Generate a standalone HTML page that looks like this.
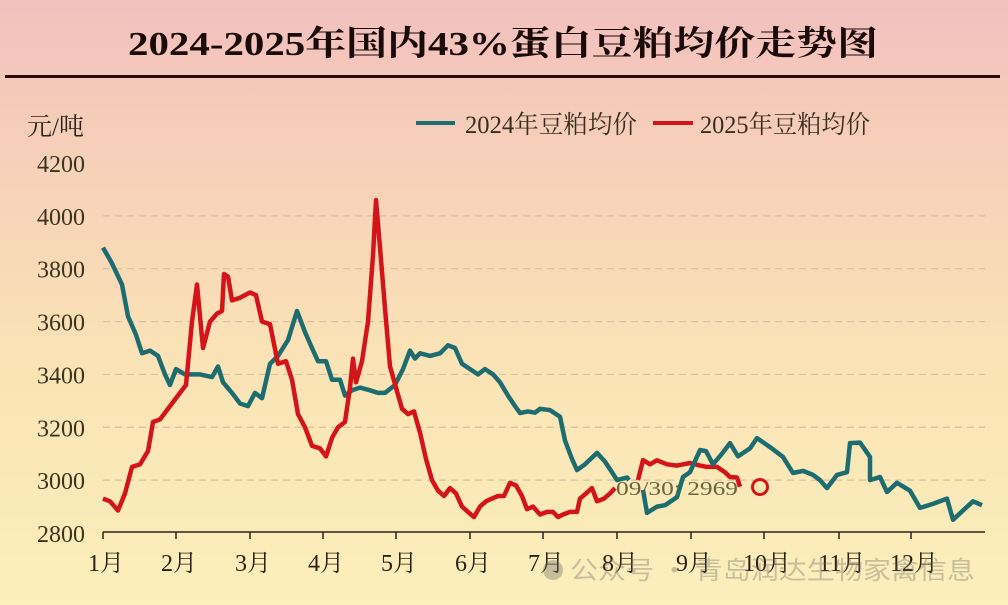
<!DOCTYPE html>
<html><head><meta charset="utf-8">
<style>
html,body{margin:0;padding:0;}
body{width:1008px;height:605px;overflow:hidden;background:linear-gradient(180deg,#f2c0be 0%,#f7d2b8 30%,#fae3b6 60%,#fcefbb 100%);}
svg{display:block;}
</style></head><body>
<svg id="s" width="1008" height="605" xmlns="http://www.w3.org/2000/svg" font-family="'Liberation Serif','Noto Serif CJK SC',serif">
<text x="503" y="55" text-anchor="middle" font-size="34" font-weight="bold" fill="#1a0a0a" textLength="750" lengthAdjust="spacingAndGlyphs">2024-2025年国内43%蛋白豆粕均价走势图</text>
<rect x="5" y="75" width="995" height="3" fill="#2a0a0a"/>
<text x="27" y="135" font-size="25" fill="#2b2418">元/吨</text>
<line x1="416" y1="123" x2="455" y2="123" stroke="#1f6e72" stroke-width="4"/>
<text x="465" y="133" font-size="25" fill="#3a2e22" textLength="172" lengthAdjust="spacingAndGlyphs">2024年豆粕均价</text>
<line x1="653" y1="123" x2="693" y2="123" stroke="#d0161a" stroke-width="4"/>
<text x="700" y="133" font-size="25" fill="#3a2e22" textLength="170" lengthAdjust="spacingAndGlyphs">2025年豆粕均价</text>
<g id="grid" stroke="#d8bfa6" stroke-width="1.2" stroke-dasharray="7,5"></g>
<g id="ylab" font-size="24" fill="#3d3420" text-anchor="end"></g>
<line x1="103" y1="532" x2="985" y2="532" stroke="#2a2418" stroke-width="1.5"/>
<g id="xt" stroke="#2a2418" stroke-width="1.5"></g>
<g id="xlab" font-size="24" fill="#2a2418" text-anchor="middle"></g>
<polyline id="teal" fill="none" stroke="#1d6c70" stroke-width="4.5" stroke-linejoin="round"/>
<polyline id="red" fill="none" stroke="#d3141a" stroke-width="4.5" stroke-linejoin="round"/>
<text x="616" y="495" font-size="20" fill="#6b6440" textLength="122" lengthAdjust="spacingAndGlyphs">09/30: 2969</text>
<circle cx="760" cy="487" r="7.5" fill="none" stroke="#d3141a" stroke-width="3"/>
<g opacity="0.35" fill="#666">
<circle cx="553" cy="570" r="10"/>
<text x="570" y="579" font-size="25" font-family="'Noto Sans CJK SC',sans-serif" textLength="405" lengthAdjust="spacingAndGlyphs">公众号 · 青岛润达生物家禽信息</text>
</g>
</svg>
<script>
function Y(v){return 533-(v-2800)*0.2643;}
var ns="http://www.w3.org/2000/svg";
var g=document.getElementById('grid'),yl=document.getElementById('ylab');
for(var v=2800;v<=4200;v+=200){
 if(v>2800&&v<4200){var l=document.createElementNS(ns,'line');l.setAttribute('x1',103);l.setAttribute('x2',985);l.setAttribute('y1',Y(v));l.setAttribute('y2',Y(v));g.appendChild(l);}
 var t=document.createElementNS(ns,'text');t.setAttribute('x',85);t.setAttribute('y',Y(v)+9);t.textContent=v;yl.appendChild(t);
}
var xs=[103,176,250,323,396,470,543,617,691,764,839,911];
var xt=document.getElementById('xt'),xl=document.getElementById('xlab');
xs.forEach(function(x,i){var l=document.createElementNS(ns,'line');l.setAttribute('x1',x);l.setAttribute('x2',x);l.setAttribute('y1',532);l.setAttribute('y2',539);xt.appendChild(l);
 var t=document.createElementNS(ns,'text');t.setAttribute('x',x+3);t.setAttribute('y',571);t.textContent=(i+1)+'月';xl.appendChild(t);});
var teal=[[103,3880],[112,3820],[122,3740],[128,3620],[136,3550],[142,3480],[150,3490],[158,3470],[165,3400],[170,3360],[176,3420],[185,3400],[200,3400],[212,3390],[218,3430],[223,3370],[232,3330],[240,3290],[248,3280],[255,3330],[262,3310],[270,3440],[278,3470],[288,3530],[297,3640],[305,3560],[312,3500],[318,3450],[326,3450],[332,3380],[340,3380],[345,3320],[352,3340],[360,3350],[370,3340],[378,3330],[385,3330],[395,3360],[403,3420],[410,3490],[415,3460],[420,3480],[430,3470],[440,3480],[448,3510],[455,3500],[462,3440],[470,3420],[478,3400],[485,3420],[493,3400],[500,3370],[508,3320],[515,3280],[520,3254],[528,3260],[535,3255],[540,3270],[550,3265],[560,3240],[565,3150],[572,3080],[577,3038],[585,3060],[597,3103],[605,3070],[612,3030],[617,3000],[627,3010],[629,3000]];
var teal2=[[643,2963],[647,2876],[657,2900],[665,2905],[677,2936],[683,3012],[690,3030],[700,3114],[706,3110],[713,3060],[722,3100],[730,3140],[738,3090],[750,3120],[757,3159],[770,3125],[783,3088],[793,3027],[803,3035],[813,3020],[820,3000],[827,2970],[837,3020],[847,3030],[850,3140],[860,3142],[870,3088],[870,3000],[880,3012],[887,2955],[897,2990],[910,2960],[920,2895],[933,2910],[947,2930],[953,2850],[963,2885],[973,2920],[982,2905]];
var red=[[103,2930],[110,2920],[118,2885],[125,2950],[132,3050],[140,3060],[148,3110],[153,3220],[160,3230],[170,3280],[180,3330],[186,3360],[192,3600],[197,3740],[203,3500],[210,3600],[217,3630],[222,3640],[224,3780],[228,3770],[232,3680],[240,3690],[250,3710],[256,3700],[262,3600],[270,3590],[278,3440],[286,3450],[292,3380],[298,3250],[305,3200],[312,3130],[320,3120],[326,3090],[332,3160],[338,3200],[345,3220],[350,3350],[353,3460],[356,3370],[362,3450],[368,3600],[373,3850],[376,4060],[380,3880],[385,3650],[390,3430],[396,3350],[402,3270],[408,3250],[414,3260],[420,3180],[426,3080],[432,3000],[438,2960],[444,2940],[450,2970],[456,2950],[462,2900],[468,2880],[474,2860],[480,2900],[486,2920],[492,2930],[498,2940],[504,2940],[510,2990],[516,2980],[522,2940],[527,2890],[533,2900],[540,2870],[547,2880],[553,2880],[558,2860],[563,2870],[570,2880],[577,2880],[580,2930],[586,2950],[592,2970],[597,2920],[604,2930],[610,2950],[615,2970]];
var red2=[[638,3000],[643,3076],[650,3060],[657,3075],[667,3060],[677,3055],[690,3065],[700,3055],[707,3050],[717,3050],[725,3030],[730,3012],[737,3010],[740,2975]];
function pts(a){return a.map(function(p){return p[0]+','+Y(p[1]).toFixed(1)}).join(' ');}
document.getElementById('teal').setAttribute('points',pts(teal));
document.getElementById('red').setAttribute('points',pts(red));
var s=document.getElementById('s');
[[teal2,'#1d6c70'],[red2,'#d3141a']].forEach(function(o){var p=document.createElementNS(ns,'polyline');p.setAttribute('points',pts(o[0]));p.setAttribute('fill','none');p.setAttribute('stroke',o[1]);p.setAttribute('stroke-width','4.5');p.setAttribute('stroke-linejoin','round');s.insertBefore(p,document.getElementById('red').nextSibling);});
</script>
</body></html>
